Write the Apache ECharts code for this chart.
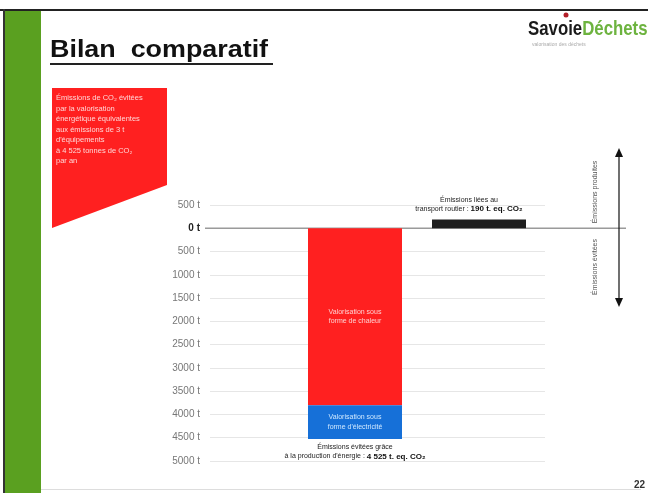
<!DOCTYPE html>
<html><head><meta charset="utf-8">
<script src="https://cdn.jsdelivr.net/npm/echarts@6/dist/echarts.min.js"></script>
<style>html,body{margin:0;padding:0;background:#fff}#c{width:648px;height:493px}</style>
</head><body><div id="c"></div>
<script>
var categories = ['Valorisation énergétique', 'Transport routier'];
var heatValues = [-3800, null];
var elecValues = [-725, null];
var transportValues = [null, 190];
var yTicks = [500, 0, -500, -1000, -1500, -2000, -2500, -3000, -3500, -4000, -4500, -5000];
var heatLabel = 'Valorisation sous\nforme de chaleur';
var elecLabel = 'Valorisation sous\nforme d\'électricité';
var transportLabel = 'Émissions liées au\ntransport routier : {b|190 t. eq. CO₂}';
var avoidedLabel = 'Émissions évitées grâce\nà la production d\'énergie : {b|4 525 t. eq. CO₂}';

var FONT = 'Liberation Sans, Arial, sans-serif';
var yMin = yTicks[yTicks.length - 1], yMax = yTicks[0];
var chart = echarts.init(document.getElementById('c'), null, {renderer: 'canvas'});
var avoidedTotal = (heatValues[0] || 0) + (elecValues[0] || 0);

var option = {
  backgroundColor: '#ffffff',
  animation: false,
  grid: [
    {left: 210, right: 103, top: 205, bottom: 32},
    {left: 293, right: 107, top: 205, bottom: 32}
  ],
  xAxis: [
    {gridIndex: 0, type: 'category', data: [''], show: false},
    {gridIndex: 1, type: 'category', data: categories, show: false}
  ],
  yAxis: [
    {gridIndex: 0, type: 'value', min: yMin, max: yMax, interval: 500,
     axisLine: {show: false}, axisTick: {show: false},
     splitLine: {lineStyle: {color: '#e6e6e6', width: 1}},
     axisLabel: {margin: 10, fontSize: 10, color: '#777', fontFamily: FONT,
       formatter: function (v) { return v === 0 ? '{z|0 t}' : Math.abs(v) + ' t'; },
       rich: {z: {fontWeight: 'bold', color: '#222', fontSize: 10, fontFamily: FONT}}}},
    {gridIndex: 1, type: 'value', min: yMin, max: yMax, interval: 500, show: false}
  ],
  series: [
    {type: 'bar', name: 'chaleur', xAxisIndex: 1, yAxisIndex: 1, stack: 's', barWidth: 94,
     data: heatValues, itemStyle: {color: '#ff2020'},
     label: {show: true, position: 'inside', formatter: heatLabel, color: '#ffd0d0', fontSize: 7, fontFamily: FONT, lineHeight: 9}},
    {type: 'bar', name: 'électricité', xAxisIndex: 1, yAxisIndex: 1, stack: 's', barWidth: 94,
     data: elecValues, itemStyle: {color: '#1670d8'},
     label: {show: true, position: 'inside', formatter: elecLabel, color: '#cfe8ff', fontSize: 7, fontFamily: FONT, lineHeight: 10},
     markPoint: {symbol: 'circle', symbolSize: 0,
       data: [{coord: [categories[0], avoidedTotal]}],
       label: {show: true, position: 'bottom', distance: 4, formatter: avoidedLabel, color: '#222', fontSize: 7, fontFamily: FONT, lineHeight: 9, align: 'center',
         rich: {b: {fontWeight: 'bold', fontSize: 8, color: '#111', fontFamily: FONT}}}}},
    {type: 'bar', name: 'transport', xAxisIndex: 1, yAxisIndex: 1, stack: 's', barWidth: 94,
     data: transportValues, itemStyle: {color: '#1e1e1e'},
     label: {show: true, position: 'top', distance: 6, offset: [-10, 0], formatter: transportLabel, color: '#222', fontSize: 7, fontFamily: FONT, lineHeight: 9, align: 'center',
       rich: {b: {fontWeight: 'bold', fontSize: 8, color: '#111', fontFamily: FONT}}}}
  ]
};
chart.setOption(option);

var zeroY = chart.convertToPixel({yAxisIndex: 0}, 0);
chart.setOption({
  graphic: [
    // slide frame
    {type: 'rect', shape: {x: 0, y: 9, width: 648, height: 2}, style: {fill: '#222'}},
    {type: 'rect', shape: {x: 3, y: 9, width: 2, height: 484}, style: {fill: '#333'}},
    {type: 'rect', shape: {x: 5, y: 11, width: 36, height: 482}, style: {fill: '#5aa020'}},
    {type: 'rect', shape: {x: 41, y: 489, width: 600, height: 1}, style: {fill: '#dddddd'}},
    // title
    {type: 'text', x: 50, y: 38, scaleX: 1.12, style: {text: 'Bilan  comparatif', font: 'bold 24px ' + FONT, fill: '#111'}},
    {type: 'rect', shape: {x: 50, y: 63, width: 223, height: 2}, style: {fill: '#222'}},
    // logo
    {type: 'text', x: 528, y: 19, scaleX: 0.8, style: {text: '{s|Savoie}{d|Déchets}',
      rich: {s: {font: 'bold 21px ' + FONT, fill: '#1a1a1a'},
             d: {font: 'bold 21px ' + FONT, fill: '#6db33f'}}}},
    {type: 'circle', shape: {cx: 566, cy: 15, r: 2.5}, style: {fill: '#b21e28'}},
    {type: 'text', left: 532, top: 42, style: {text: 'valorisation des déchets', font: '5px ' + FONT, fill: '#aaa'}},
    // red callout
    {type: 'polygon', shape: {points: [[52, 88], [167, 88], [167, 185], [52, 228]]}, style: {fill: '#ff2020'}},
    {type: 'text', left: 56, top: 93, style: {text: 'Émissions de CO₂ évitées\npar la valorisation\nénergétique équivalentes\naux émissions de 3 t\nd\'équipements\nà 4 525 tonnes de CO₂\npar an', font: '7.5px ' + FONT, fill: '#ffd6d6', lineHeight: 10.5}},
    // zero line
    {type: 'line', shape: {x1: 205, y1: zeroY, x2: 626, y2: zeroY}, style: {stroke: '#9a9a9a', lineWidth: 1.5}},
    // side labels and arrows
    {type: 'text', x: 595, y: 192, rotation: Math.PI / 2, style: {text: 'Émissions produites', font: '7px ' + FONT, fill: '#555', align: 'center', verticalAlign: 'middle'}},
    {type: 'text', x: 595, y: 267, rotation: Math.PI / 2, style: {text: 'Émissions évitées', font: '7px ' + FONT, fill: '#555', align: 'center', verticalAlign: 'middle'}},
    {type: 'line', shape: {x1: 619, y1: 153, x2: 619, y2: 302}, style: {stroke: '#111', lineWidth: 1.2}},
    {type: 'polygon', shape: {points: [[619, 148], [615, 157], [623, 157]]}, style: {fill: '#111'}},
    {type: 'polygon', shape: {points: [[619, 307], [615, 298], [623, 298]]}, style: {fill: '#111'}},
    // page number
    {type: 'text', left: 634, top: 480, style: {text: '22', font: 'bold 10px ' + FONT, fill: '#333'}}
  ]
});
</script></body></html>
